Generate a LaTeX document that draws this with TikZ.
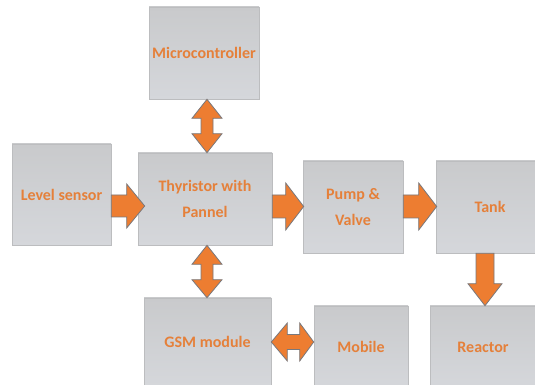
\documentclass[tikz,border=0pt]{standalone}
\usepackage{fontspec}
\setmainfont{Carlito}
\usetikzlibrary{calc}
\definecolor{boxtop}{RGB}{201,202,204}
\definecolor{boxbot}{RGB}{213,215,219}
\definecolor{boxedge}{RGB}{188,189,191}
\definecolor{txtorange}{RGB}{229,128,58}
\definecolor{arrorange}{RGB}{237,125,49}
\definecolor{arrgray}{RGB}{120,120,125}
\tikzset{
  box/.style={rectangle, draw=boxedge, line width=0.6pt, top color=boxtop, bottom color=boxbot,
    text=txtorange, align=center, inner sep=0pt,
    font=\fontsize{16}{26}\selectfont\bfseries},
  blockarrow/.style={fill=arrorange, draw=arrgray, line width=0.8pt, line join=miter}
}
\begin{document}
\begin{tikzpicture}[x=1pt,y=1pt]
\useasboundingbox (0,0) rectangle (535,385);
\clip (0,0) rectangle (535,385);
\fill[white] (0,0) rectangle (535,385);

\node[box, minimum width=110pt, minimum height=92pt] (micro) at (204,332) {Microcontroller};
\node[box, minimum width=99pt, minimum height=101pt] (level) at (61.5,190.5) {Level sensor};
\node[box, minimum width=134pt, minimum height=92pt] (thy) at (205,186) {Thyristor with\\Pannel};
\node[box, minimum width=100pt, minimum height=92pt] (pump) at (353,178) {Pump \&\\Valve};
\node[box, minimum width=108pt, minimum height=92pt] (tank) at (490,178) {Tank};
\node[box, minimum width=127pt, minimum height=88pt] (gsm) at (207.5,43) {GSM module};
\node[box, minimum width=94pt, minimum height=82pt] (mobile) at (361,38) {Mobile};
\node[box, minimum width=106pt, minimum height=82pt] (reactor) at (483,38) {Reactor};

% Level sensor -> Thyristor
\draw[blockarrow] let \p1=(level.east), \p2=(thy.west) in
  (\x1,190) -- (\x2-11,190) -- (\x2-11,201) -- (\x2+7,179) -- (\x2-11,157) -- (\x2-11,168) -- (\x1,168) -- cycle;
% Thyristor -> Pump
\draw[blockarrow] let \p1=(thy.east), \p2=(pump.west) in
  (\x1,190) -- (\x2-17,190) -- (\x2-17,202) -- (\x2+1,178.5) -- (\x2-17,155) -- (\x2-17,167) -- (\x1,167) -- cycle;
% Pump -> Tank
\draw[blockarrow] let \p1=(pump.east), \p2=(tank.west) in
  (\x1,190) -- (\x2-17,190) -- (\x2-17,202) -- (\x2+1,178.5) -- (\x2-17,155) -- (\x2-17,167) -- (\x1,167) -- cycle;
% Tank -> Reactor
\draw[blockarrow] let \p1=(tank.south), \p2=(reactor.north) in
  (476,\y1) -- (476,\y2+22) -- (468,\y2+22) -- (485,\y2) -- (502,\y2+22) -- (494,\y2+22) -- (494,\y1) -- cycle;
% Microcontroller <-> Thyristor
\draw[blockarrow] let \p1=(micro.south), \p2=(thy.north) in
  (207,\y1) -- (222,\y1-19) -- (213,\y1-19) -- (213,\y2+19) -- (222,\y2+19) -- (207,\y2)
  -- (192,\y2+19) -- (201,\y2+19) -- (201,\y1-19) -- (192,\y1-19) -- cycle;
% Thyristor <-> GSM
\draw[blockarrow] let \p1=(thy.south), \p2=(gsm.north) in
  (207,\y1) -- (222,\y1-19) -- (213,\y1-19) -- (213,\y2+18) -- (222,\y2+18) -- (207,\y2)
  -- (192,\y2+18) -- (201,\y2+18) -- (201,\y1-19) -- (192,\y1-19) -- cycle;
% GSM <-> Mobile
\draw[blockarrow] let \p1=(gsm.east), \p2=(mobile.west) in
  (\x1,43) -- (\x1+16,62) -- (\x1+16,50.5) -- (\x2-14,50.5) -- (\x2-14,62) -- (\x2,43)
  -- (\x2-14,24) -- (\x2-14,35.5) -- (\x1+16,35.5) -- (\x1+16,24) -- cycle;
\end{tikzpicture}
\end{document}
